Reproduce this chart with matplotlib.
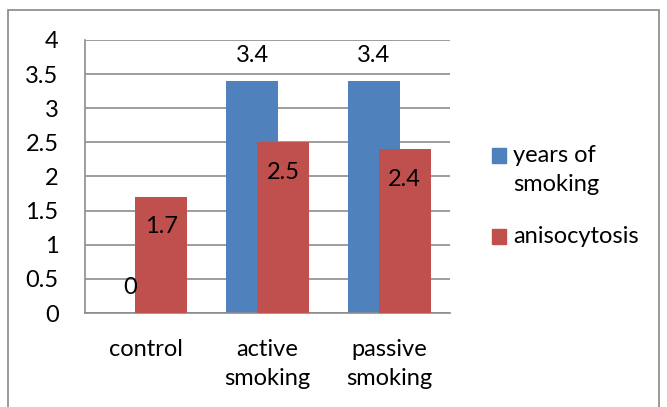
import matplotlib
matplotlib.use("Agg")
import matplotlib.pyplot as plt
from matplotlib.patches import Rectangle
import numpy as np

categories = ["control", "active\nsmoking", "passive\nsmoking"]
series_names = ["years of\nsmoking", "anisocytosis"]
years_of_smoking = [0, 3.4, 3.4]
anisocytosis = [1.7, 2.5, 2.4]
y_ticks = [0, 0.5, 1, 1.5, 2, 2.5, 3, 3.5, 4]
y_tick_labels = ["0", "0.5", "1", "1.5", "2", "2.5", "3", "3.5", "4"]

BLUE = "#4F81BD"
RED = "#C0504D"
GRID = "#8C8C8C"
FONT = "Lato"
FS = 17

plt.rcParams["font.family"] = [FONT, "DejaVu Sans"]

W, H = 667, 407
fig = plt.figure(figsize=(W / 100, H / 100), dpi=100)

# outer chart frame
fig.patches.append(Rectangle((8 / W, -0.05), (659 - 8) / W, 1.05 - 10 / H,
                             transform=fig.transFigure, fill=False,
                             edgecolor="#888888", linewidth=1.2))

ax = fig.add_axes([85 / W, (H - 313) / H, (450 - 85) / W, (313 - 40) / H])

x = np.arange(len(categories))
bw = 0.427
off = 0.127
ax.bar(x - off, years_of_smoking, bw, color=BLUE, zorder=2)
ax.bar(x + off, anisocytosis, bw, color=RED, zorder=3)

# value labels
for xi, v in zip(x, years_of_smoking):
    ax.annotate(f"{v:g}", (xi - off, v), xytext=(0, 18), textcoords="offset points",
                ha="center", va="center", fontsize=FS, zorder=5)
for xi, v in zip(x, anisocytosis):
    ax.annotate(f"{v:g}", (xi + off, v), xytext=(0, -21.5), textcoords="offset points",
                ha="center", va="center", fontsize=FS, zorder=5)

ax.set_xlim(-0.5, 2.5)
ax.set_ylim(0, 4)
ax.set_yticks(y_ticks)
ax.set_yticklabels(y_tick_labels)
ax.set_xticks(x)
ax.set_xticklabels(categories, linespacing=1.45)
ax.tick_params(axis="y", length=0, pad=19, labelsize=FS)
ax.tick_params(axis="x", length=0, pad=19, labelsize=FS)

ax.yaxis.grid(True, color=GRID, linewidth=1.2, zorder=0)
ax.set_axisbelow(True)
for s in ["top", "right"]:
    ax.spines[s].set_visible(False)
for s in ["left", "bottom"]:
    ax.spines[s].set_color(GRID)
    ax.spines[s].set_linewidth(1.2)

# legend
leg_items = [(series_names[0], BLUE, 155), (series_names[1], RED, 236)]
for name, col, yc in leg_items:
    fig.patches.append(Rectangle((492 / W, (H - yc - 7.5) / H), 14 / W, 15 / H,
                                 transform=fig.transFigure, color=col))
    fig.text(513 / W, (H - yc + 10) / H, name, ha="left", va="top",
             fontsize=FS, linespacing=1.45)

fig.savefig("out.png", dpi=100)
